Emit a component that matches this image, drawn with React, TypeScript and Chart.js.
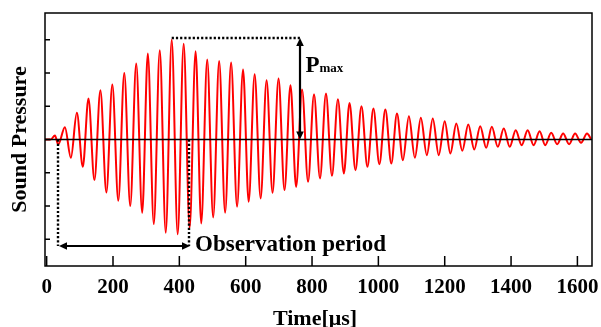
import React, { useEffect, useRef } from "react";
import { Chart, registerables } from "chart.js";

Chart.register(...registerables);

// Extrema of the sound-pressure trace (time in µs, pressure in tick units)
const timeUs = [
  -5, 12, 25, 35, 55, 73, 91, 109, 126, 144, 162, 180, 198, 216, 234, 252, 270, 288, 305, 323,
  341, 359, 377, 395, 413, 431, 449, 466, 484, 502, 520, 538, 556, 574, 592, 609, 627, 645, 663,
  681, 699, 717, 735, 752, 770, 788, 806, 824, 842, 860, 878, 896, 913, 931, 949, 967, 985, 1003,
  1021, 1039, 1056, 1074, 1092, 1110, 1128, 1146, 1164, 1182, 1200, 1217, 1235, 1253, 1271, 1289,
  1307, 1325, 1342, 1360, 1378, 1396, 1414, 1432, 1450, 1468, 1486, 1503, 1521, 1539, 1557, 1575,
  1593, 1611, 1629, 1641,
];
const pressure = [
  0, 0, 0.12, -0.15, 0.37, -0.55, 0.8, -0.82, 1.23, -1.22, 1.48, -1.59, 1.65, -1.84, 2.0, -2.0,
  2.28, -2.2, 2.58, -2.54, 2.68, -2.8, 3.0, -2.85, 2.88, -2.65, 2.65, -2.52, 2.4, -2.34, 2.36, -2.2,
  2.31, -2.02, 2.1, -1.87, 1.96, -1.77, 1.78, -1.6, 1.83, -1.52, 1.63, -1.42, 1.5, -1.27, 1.36,
  -1.17, 1.38, -1.09, 1.21, -1.02, 1.1, -0.92, 1.0, -0.82, 0.93, -0.74, 0.9, -0.72, 0.78, -0.62,
  0.7, -0.55, 0.65, -0.47, 0.63, -0.47, 0.55, -0.42, 0.48, -0.34, 0.45, -0.3, 0.4, -0.25, 0.38,
  -0.22, 0.33, -0.22, 0.28, -0.17, 0.28, -0.17, 0.25, -0.17, 0.2, -0.14, 0.18, -0.14, 0.18, -0.1,
  0.18, 0.02,
];

const xTicks = [0, 200, 400, 600, 800, 1000, 1200, 1400, 1600];
const yTicks = [-3, -2, -1, 0, 1, 2, 3];
const xRange = [-5, 1644];
const yRange = [-3.8, 3.8];

// annotation values
const pmaxLevel = 3.04;
const pmaxPeakTime = 377;
const pmaxArrowTime = 764;
const obsStart = 35;
const obsEnd = 429;
const obsArrowLevel = -3.2;

const FONT = '"Liberation Serif", "Times New Roman", serif';

function arrowHead(ctx: CanvasRenderingContext2D, x: number, y: number, ang: number) {
  const len = 8;
  const half = 3.8;
  ctx.beginPath();
  ctx.moveTo(x, y);
  ctx.lineTo(x - len * Math.cos(ang) + half * Math.sin(ang), y - len * Math.sin(ang) - half * Math.cos(ang));
  ctx.lineTo(x - len * Math.cos(ang) - half * Math.sin(ang), y - len * Math.sin(ang) + half * Math.cos(ang));
  ctx.closePath();
  ctx.fill();
}

function doubleArrow(ctx: CanvasRenderingContext2D, x1: number, y1: number, x2: number, y2: number) {
  const ang = Math.atan2(y2 - y1, x2 - x1);
  ctx.save();
  ctx.strokeStyle = "#000";
  ctx.fillStyle = "#000";
  ctx.lineWidth = 2.2;
  ctx.setLineDash([]);
  ctx.beginPath();
  ctx.moveTo(x1 + 5 * Math.cos(ang), y1 + 5 * Math.sin(ang));
  ctx.lineTo(x2 - 5 * Math.cos(ang), y2 - 5 * Math.sin(ang));
  ctx.stroke();
  arrowHead(ctx, x2, y2, ang);
  arrowHead(ctx, x1, y1, ang + Math.PI);
  ctx.restore();
}

const decorPlugin = {
  id: "decor",
  afterDatasetsDraw(chart: any) {
    const { ctx, chartArea: a, scales } = chart;
    const xs = scales.x;
    const ys = scales.y;
    ctx.save();

    // zero line
    const y0 = ys.getPixelForValue(0);
    ctx.strokeStyle = "#000";
    ctx.lineWidth = 1.6;
    ctx.beginPath();
    ctx.moveTo(a.left, y0);
    ctx.lineTo(a.right, y0);
    ctx.stroke();

    // frame
    ctx.lineWidth = 1.5;
    ctx.strokeRect(a.left, a.top, a.right - a.left, a.bottom - a.top);

    // inward ticks
    ctx.lineWidth = 1.5;
    ctx.beginPath();
    for (const v of xTicks) {
      const px = xs.getPixelForValue(v);
      ctx.moveTo(px, a.bottom);
      ctx.lineTo(px, a.bottom - 10);
    }
    for (const v of yTicks) {
      const py = ys.getPixelForValue(v);
      ctx.moveTo(a.left, py);
      ctx.lineTo(a.left + 5, py);
    }
    ctx.stroke();

    // tick labels
    ctx.fillStyle = "#000";
    ctx.font = `bold 21px ${FONT}`;
    ctx.textAlign = "center";
    ctx.textBaseline = "alphabetic";
    for (const v of xTicks) {
      ctx.fillText(String(v), xs.getPixelForValue(v), 293);
    }

    // axis titles
    ctx.font = `bold 22px ${FONT}`;
    ctx.fillText("Time[\u03bcs]", 315, 325);
    ctx.save();
    ctx.translate(25.5, (a.top + a.bottom) / 2);
    ctx.rotate(-Math.PI / 2);
    ctx.textAlign = "center";
    ctx.fillText("Sound Pressure", 0, 0);
    ctx.restore();

    // dotted guide lines
    ctx.lineWidth = 2.4;
    ctx.setLineDash([2.2, 2]);
    const yTop = Math.round(ys.getPixelForValue(pmaxLevel));
    const xArrow = Math.round(xs.getPixelForValue(pmaxArrowTime));
    const xPeak = xs.getPixelForValue(pmaxPeakTime);
    const xObs1 = Math.round(xs.getPixelForValue(obsStart));
    const xObs2 = Math.round(xs.getPixelForValue(obsEnd));
    const yObs = Math.round(ys.getPixelForValue(obsArrowLevel));
    ctx.beginPath();
    ctx.moveTo(xPeak, yTop);
    ctx.lineTo(xArrow, yTop);
    ctx.moveTo(xObs1, y0);
    ctx.lineTo(xObs1, yObs);
    ctx.moveTo(xObs2, y0);
    ctx.lineTo(xObs2, yObs);
    ctx.stroke();
    ctx.setLineDash([]);

    // arrows
    doubleArrow(ctx, xArrow, yTop, xArrow, y0);
    doubleArrow(ctx, xObs1 + 1, yObs, xObs2 + 1, yObs);

    // labels
    ctx.textAlign = "left";
    ctx.font = `bold 23px ${FONT}`;
    ctx.fillText("P", 305.5, 72);
    ctx.font = `bold 13px ${FONT}`;
    ctx.fillText("max", 319.5, 72);
    ctx.font = `bold 23px ${FONT}`;
    ctx.fillText("Observation period", 195, 251);

    ctx.restore();
  },
};

export default function App() {
  const ref = useRef<HTMLCanvasElement | null>(null);
  useEffect(() => {
    if (!ref.current) return;
    const points = timeUs.map((t, i) => ({ x: t, y: pressure[i] }));
    const chart = new Chart(ref.current, {
      type: "line",
      data: {
        datasets: [
          {
            data: points,
            borderColor: "#ff0000",
            borderWidth: 2,
            pointRadius: 0,
            cubicInterpolationMode: "monotone",
            fill: false,
          },
        ],
      },
      options: {
        responsive: false,
        animation: false,
        layout: { padding: { left: 45, top: 13, right: 9, bottom: 61 } },
        plugins: { legend: { display: false }, tooltip: { enabled: false } },
        scales: {
          x: { type: "linear", min: xRange[0], max: xRange[1], display: false },
          y: { type: "linear", min: yRange[0], max: yRange[1], display: false },
        },
      },
      plugins: [decorPlugin],
    });
    return () => chart.destroy();
  }, []);
  return (
    <div style={{ position: "absolute", left: 0, top: 0, width: 601, height: 327, background: "#fff" }}>
      <canvas ref={ref} width={601} height={327} style={{ display: "block" }} />
    </div>
  );
}
